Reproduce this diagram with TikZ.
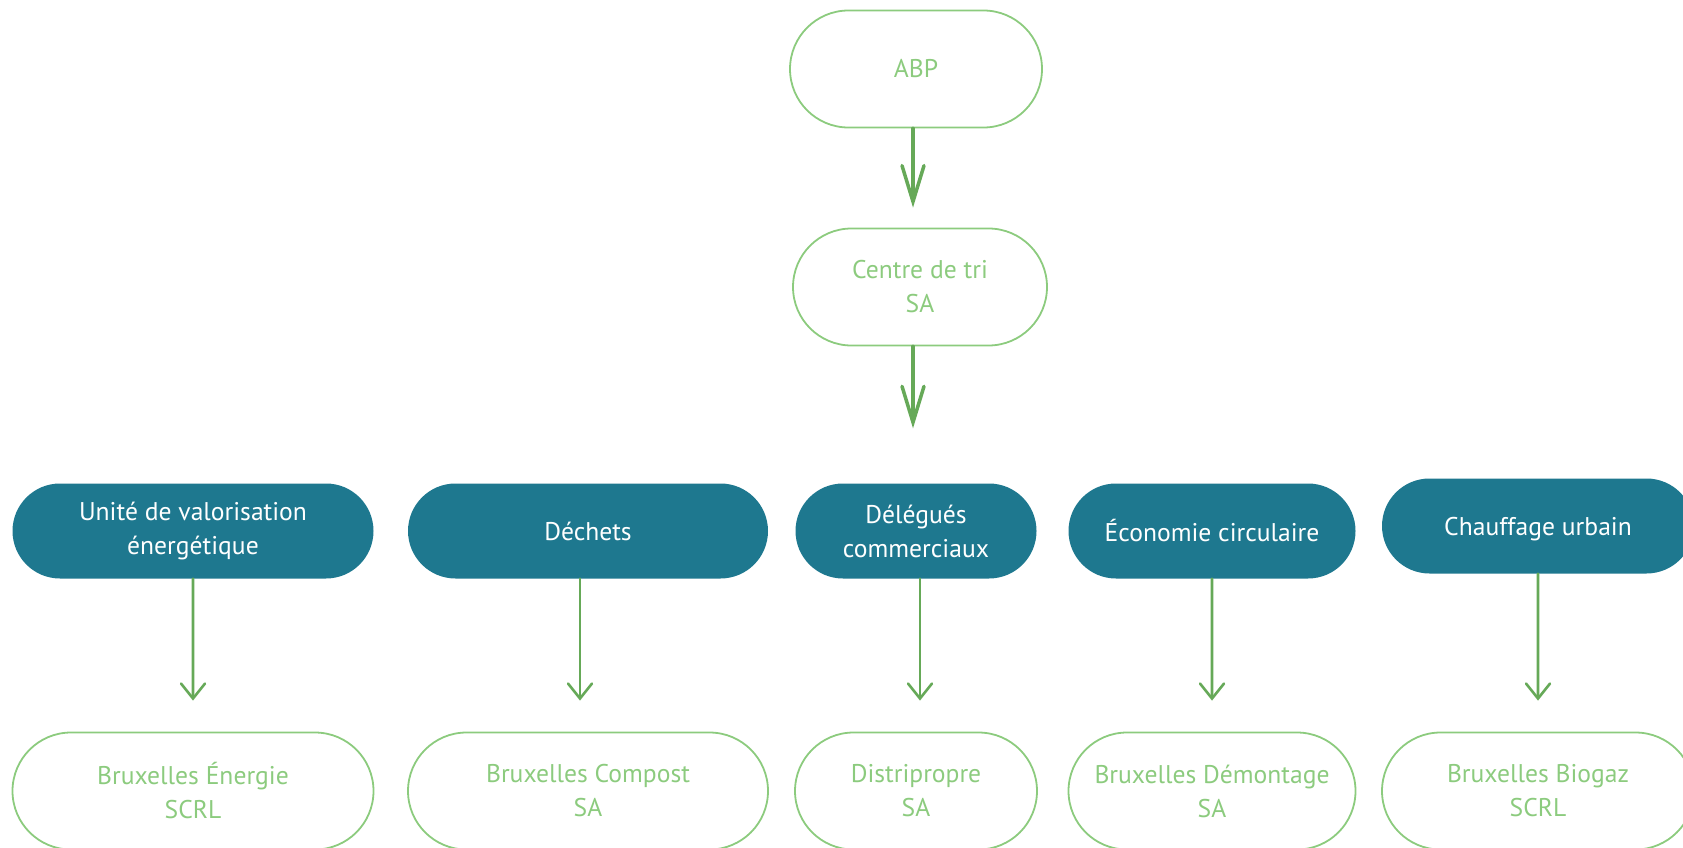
\documentclass[tikz,border=0pt]{standalone}
\usepackage{fontspec}
\setmainfont{PT Sans}
\usetikzlibrary{arrows.meta,shapes.misc,positioning}

\definecolor{leaf}{RGB}{140,203,126}
\definecolor{stem}{RGB}{102,169,88}
\definecolor{petrol}{RGB}{30,120,143}

\begin{document}
\begin{tikzpicture}[x=1pt,y=-1pt]
  \useasboundingbox (0,0) rectangle (1683,848);

  \tikzstyle{TextStyle}=[font=\fontsize{25.6}{34}\selectfont,align=center,inner sep=0pt]
  \tikzstyle{Entity}=[TextStyle,rounded rectangle,draw=leaf,line width=1.8pt,
                      text=leaf,minimum height=117pt]
  \tikzstyle{Branch}=[TextStyle,rounded rectangle,fill=petrol,text=white,
                      minimum height=95pt]
  \tikzstyle{BigFlow}=[draw=stem,line width=3.5pt,line cap=round,
                       -{Straight Barb[length=36pt,width=22pt,line cap=round]}]
  \tikzstyle{Flow}=[draw=stem,line width=2.6pt,line cap=round,
                    -{Straight Barb[length=15pt,width=24pt,line cap=round]}]

  % top of the tree
  \node[Entity,minimum width=252pt] (abp) at (916,69) {ABP};
  \node[Entity,minimum width=254pt] (tri) at (920,287) {Centre de tri\\SA};

  % departments
  \node[Branch,minimum width=361pt] (uve) at (193,531) {Unité de valorisation\\énergétique};
  \node[Branch,minimum width=360pt] (dechets) at (588,531) {Déchets};
  \node[Branch,minimum width=241pt] (delegues) at (916,531) {Délégués\\commerciaux};
  \node[Branch,minimum width=287pt] (eco) at (1212,531) {Économie circulaire};
  \node[Branch,minimum width=312pt,text depth=0pt] (chauffage) at (1538,526) {Chauffage urbain};

  % companies
  \node[Entity,minimum width=361pt] (energie) at (193,791) {Bruxelles Énergie\\SCRL};
  \node[Entity,minimum width=360pt] (compost) at (588,791) {Bruxelles Compost\\SA};
  \node[Entity,minimum width=242pt] (distri) at (916,791) {Distripropre\\SA};
  \node[Entity,minimum width=287pt] (demontage) at (1212,791) {Bruxelles Démontage\\SA};
  \node[Entity,minimum width=312pt] (biogaz) at (1538,791) {Bruxelles Biogaz\\SCRL};

  \draw[BigFlow,shorten >=20pt] ([xshift=-3pt]abp.south) -- ([xshift=-7pt]tri.north);
  \draw[BigFlow,shorten >=55pt] ([xshift=-7pt]tri.south) -- ([xshift=-3pt]delegues.north);

  \draw[Flow,shorten >=31pt] (uve) -- (energie);
  \draw[Flow,shorten >=31pt] ([xshift=-8pt]dechets.south) -- ([xshift=-8pt]compost.north);
  \draw[Flow,shorten >=31pt] ([xshift=4pt]delegues.south) -- ([xshift=4pt]distri.north);
  \draw[Flow,shorten >=31pt] (eco) -- (demontage);
  \draw[Flow,shorten >=31pt] (chauffage) -- (biogaz);
\end{tikzpicture}
\end{document}
